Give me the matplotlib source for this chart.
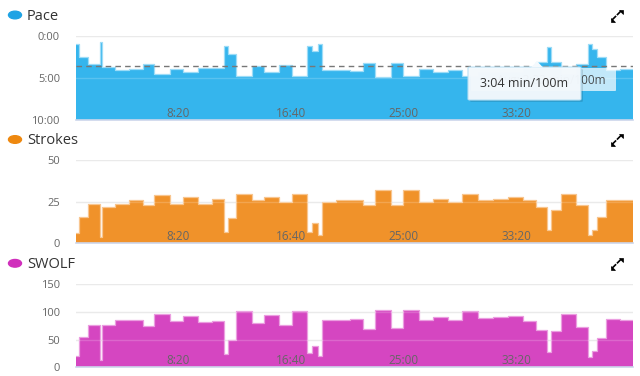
import matplotlib
matplotlib.use('Agg')
import matplotlib.pyplot as plt
import numpy as np
from matplotlib.patches import FancyBboxPatch, Circle, Polygon
from matplotlib.lines import Line2D

plt.rcParams['font.family'] = ['Open Sans', 'DejaVu Sans']

# ---------------- data (one entry per pool length) ----------------
start_time = 49  # seconds at left edge of the chart
durations = [13, 40, 53, 9, 58, 62, 62, 49, 71, 58, 66, 62, 53, 18, 35, 71, 53, 66, 58, 66,
             22, 27, 18, 62, 62, 58, 53, 71, 53, 71, 62, 66, 62, 71, 66, 66, 66, 58, 49, 18,
             44, 66, 53, 18, 22, 40, 62, 58]
pace_sec = [57, 152, 200, 43, 221, 243, 233, 200, 269, 233, 260, 231, 226, 71, 131, 283, 212, 260, 205, 283,
            71, 107, 60, 240, 240, 250, 195, 290, 195, 286, 238, 255, 243, 288, 254, 256, 260, 232, 184, 76,
            184, 268, 202, 57, 90, 153, 243, 236]
strokes = [6, 16, 24, 4, 22, 24, 26, 23, 29, 24, 28, 24, 27, 7, 15, 30, 26, 28, 25, 30,
           7, 12, 5, 25, 26, 26, 23, 32, 23, 32, 25, 27, 25, 30, 26, 27, 28, 26, 22, 8,
           20, 30, 23, 5, 8, 16, 26, 26]
swolf = [21, 55, 76, 14, 77, 86, 85, 75, 97, 83, 93, 82, 83, 24, 50, 101, 80, 94, 77, 102,
         25, 39, 20, 85, 86, 88, 70, 104, 71, 104, 85, 91, 85, 102, 90, 91, 93, 84, 68, 27,
         66, 97, 73, 19, 30, 53, 87, 85]
avg_pace_sec = 212  # 3:32
x_tick_vals = [500, 1000, 1500, 2000]
x_tick_labels = ['8:20', '16:40', '25:00', '33:20']
tooltip_text = '3:04 min/100m'
avg_text = 'Avg: 3:32 min/100m'

# ---------------- layout ----------------
W, H = 640, 376
fig = plt.figure(figsize=(6.4, 3.76), dpi=100)


def fx(x):
    return x / W


def fy(y):
    return 1 - y / H


def add_ax(top, bottom):
    return fig.add_axes([fx(76), fy(bottom), fx(633) - fx(76), fy(top) - fy(bottom)])


edges = start_time + np.concatenate([[0], np.cumsum(durations)])
x_end = edges[-1]

panels = [
    dict(name='Pace', top=36, bottom=120, vals=np.array(pace_sec) / 60.0, ylim=(10, 0),
         yticks=[0, 5, 10], ylabels=['0:00', '5:00', '10:00'], base=10,
         fill='#35b5ed', line='#9ddcf7', dot='#1fa3e4'),
    dict(name='Strokes', top=160.5, bottom=243.3, vals=np.array(strokes, float), ylim=(0, 50),
         yticks=[0, 25, 50], ylabels=['0', '25', '50'], base=0,
         fill='#f0922a', line='#f8c690', dot='#ee880f'),
    dict(name='SWOLF', top=284.3, bottom=367.3, vals=np.array(swolf, float), ylim=(0, 150),
         yticks=[0, 50, 100, 150], ylabels=['0', '50', '100', '150'], base=0,
         fill='#d546c1', line='#eb9ee0', dot='#d02fbc'),
]

for p in panels:
    ax = add_ax(p['top'], p['bottom'])
    ax.set_xlim(start_time, x_end)
    ax.set_ylim(*p['ylim'])
    for s in ax.spines.values():
        s.set_visible(False)
    yv = np.append(p['vals'], p['vals'][-1])
    ax.fill_between(edges, yv, p['base'], step='post', color=p['fill'], lw=0, zorder=2)
    ax.step(edges, yv, where='post', color=p['line'], lw=0.9, zorder=2.5)
    for g in p['yticks']:
        if g == p['base']:
            continue
        ax.axhline(g, color='#e6e6e6', lw=1, zorder=1)
        ax.axhline(g, color='white', lw=1, alpha=0.18, zorder=3)
    ax.axhline(p['base'], color='#ccd6eb', lw=1.2, zorder=4, clip_on=False)
    ax.set_yticks(p['yticks'])
    ax.set_yticklabels(p['ylabels'])
    ax.set_xticks(x_tick_vals)
    ax.set_xticklabels(x_tick_labels)
    ax.tick_params(axis='y', length=0, pad=11.5, labelsize=8, colors='#666666')
    ax.tick_params(axis='x', length=0, pad=-9.5, labelsize=8.5, colors='#666666')
    ax.xaxis.set_zorder(6)
    if p['name'] == 'Pace':
        ax.axhline(avg_pace_sec / 60.0, color='#777777', lw=1, ls=(0, (4, 3)), zorder=4)

    # title with dot
    ty = p['top'] - 21
    fig.add_artist(Circle((fx(15), fy(ty)), radius=6.5 / W, transform=fig.transFigure,
                          color=p['dot'], zorder=10))
    fig.text(fx(27), fy(ty + 1.5), p['name'], fontsize=10.5, color='#333333', va='center', ha='left')

    # expand icon (two diagonal arrowheads)
    cx, cy = 616.5, ty + 0.5
    tri1 = [(cx + 2, cy - 6), (cx + 6, cy - 6), (cx + 6, cy - 2)]
    tri2 = [(cx - 2, cy + 6), (cx - 6, cy + 6), (cx - 6, cy + 2)]
    for tri in (tri1, tri2):
        fig.add_artist(Polygon([(fx(a), fy(b)) for a, b in tri], closed=True,
                               transform=fig.transFigure, facecolor='black', edgecolor='black',
                               lw=0.5, zorder=10))
    fig.add_artist(Line2D([fx(cx + 1), fx(cx + 4)], [fy(cy - 1), fy(cy - 4)],
                          transform=fig.transFigure, color='black', lw=1.2, zorder=10))
    fig.add_artist(Line2D([fx(cx - 1), fx(cx - 4)], [fy(cy + 1), fy(cy + 4)],
                          transform=fig.transFigure, color='black', lw=1.2, zorder=10))

# avg label box
fig.add_artist(FancyBboxPatch((fx(471), fy(91)), fx(616) - fx(471), fy(68) - fy(91),
                              boxstyle='round,pad=0,rounding_size=0.002', transform=fig.transFigure,
                              facecolor='white', alpha=0.7, edgecolor='none', zorder=20))
fig.text(fx(606), fy(80.5), avg_text, fontsize=8.5, color='#333333', ha='right', va='center',
         zorder=21, alpha=0.85)

# tooltip
fig.add_artist(FancyBboxPatch((fx(470), fy(102)), fx(583) - fx(470), fy(69) - fy(102),
                              boxstyle='round,pad=0,rounding_size=0.003', transform=fig.transFigure,
                              facecolor='#000000', alpha=0.12, edgecolor='none', zorder=29))
fig.add_artist(FancyBboxPatch((fx(468), fy(100)), fx(581) - fx(468), fy(67) - fy(100),
                              boxstyle='round,pad=0,rounding_size=0.003', transform=fig.transFigure,
                              facecolor='#f4f9fd', alpha=0.97, edgecolor='#b7dff3', lw=0.8, zorder=30))
fig.add_artist(Polygon([(fx(531), fy(67.5)), (fx(537), fy(61)), (fx(543), fy(67.5))],
                       closed=True, transform=fig.transFigure, facecolor='#f4f9fd',
                       edgecolor='none', zorder=31))
fig.text(fx(524), fy(83.5), tooltip_text, fontsize=9, color='#333333', ha='center', va='center',
         zorder=32)

fig.savefig('out.png', dpi=100)
